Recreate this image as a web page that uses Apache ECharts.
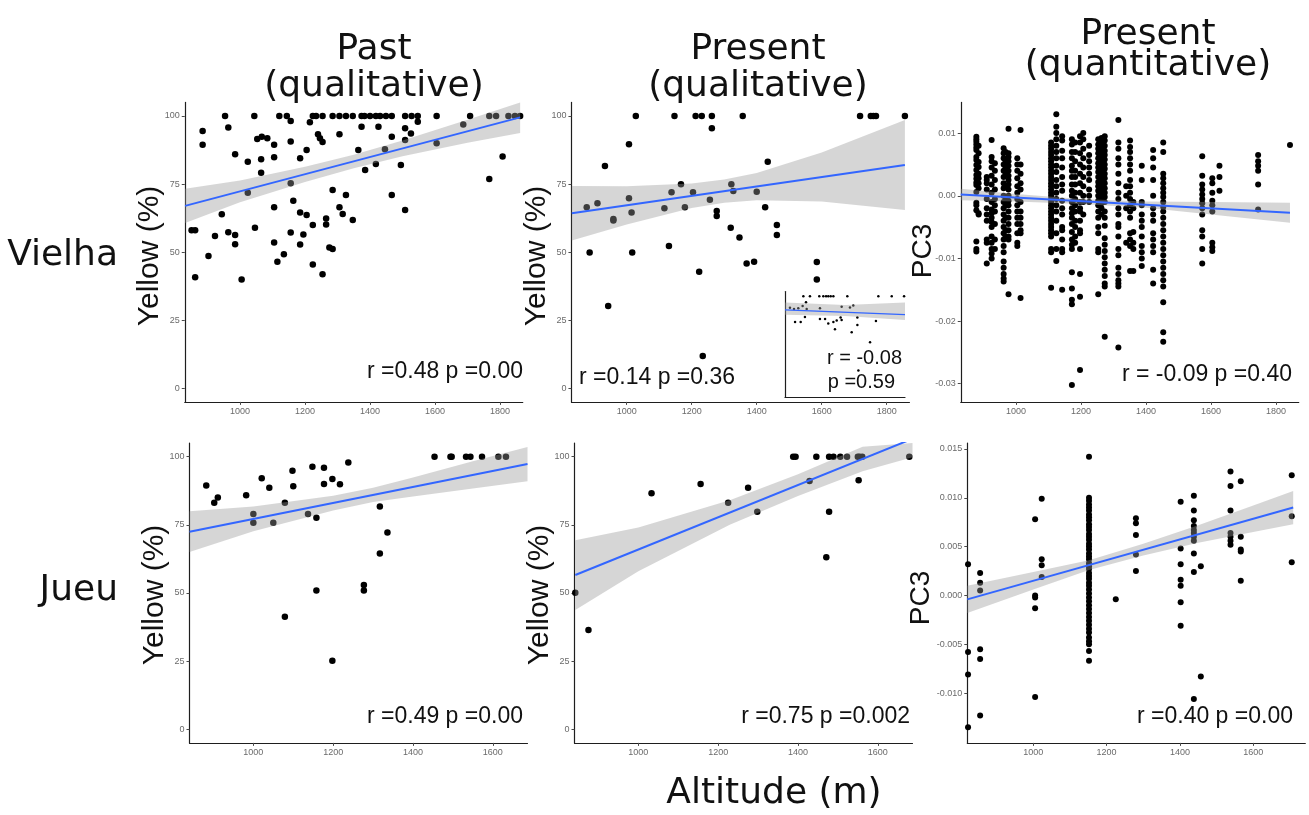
<!DOCTYPE html>
<html>
<head>
<meta charset="utf-8">
<script src="https://cdn.jsdelivr.net/npm/echarts@6/dist/echarts.min.js"></script>
<style>
  html, body { margin: 0; padding: 0; background: #ffffff; }
  #chart { width: 1309px; height: 815px; }
</style>
</head>
<body>
<div id="chart"></div>
<script>
// ---------- tick values ----------
const xTicksTop = [1000, 1200, 1400, 1600, 1800];
const xTicksBottom = [1000, 1200, 1400, 1600];
const yTicksYellow = [0, 25, 50, 75, 100];
const yTicksPC3Top = [-0.03, -0.02, -0.01, 0, 0.01];
const yTicksPC3Bottom = [-0.010, -0.005, 0, 0.005, 0.010, 0.015];

// ---------- Vielha, past (qualitative): [altitude, yellow %] ----------
const vielhaPastFull = [954, 1044, 1121, 1144, 1224, 1234, 1254, 1285, 1306, 1326, 1347, 1374, 1383, 1400,
  1418, 1431, 1449, 1467, 1508, 1528, 1547, 1605, 1708, 1767, 1788, 1826, 1846, 1862];
const vielhaPast = [
  [1156, 98.2], [885, 94.5], [885, 89.4], [964, 95.8], [1215, 97.7], [1240, 93.3], [1246, 91.8], [1254, 90.5],
  [1306, 93.3], [1374, 96.1], [1426, 96.1], [1508, 95.5], [1526, 93.6], [1547, 97.9], [1687, 96.9], [1053, 91.6],
  [1067, 92.4], [1084, 91.8], [1105, 89.4], [1156, 90.6], [1205, 87.5], [1364, 87.5], [1446, 87.8], [1467, 92.4],
  [1508, 91.2], [1605, 90], [1808, 85.1], [985, 86], [1105, 84.9], [1065, 84.1], [1024, 83.2], [1185, 84.5],
  [1418, 82.4], [1495, 82], [1065, 79.2], [1385, 80.2], [1767, 76.9], [1156, 75.3], [1024, 71.8], [1285, 72.8],
  [1326, 71], [1467, 71], [1164, 68.9], [1105, 66.5], [1306, 66.5], [1316, 64], [944, 63.9], [1185, 64.6],
  [1205, 63.6], [1265, 62.4], [1265, 60.2], [1347, 61.8], [1224, 60], [1508, 65.5], [851, 58], [862, 58],
  [1046, 59], [964, 57.3], [985, 56.3], [923, 55.9], [1156, 57.2], [1195, 56.5], [985, 52.9], [1105, 53.5],
  [1185, 52.8], [1275, 51.7], [1285, 51.2], [903, 48.6], [1135, 49.2], [1115, 46.5], [1224, 45.5], [1254, 41.9],
  [862, 40.8], [1005, 40]
];
const vielhaPastFit = [[831, 67], [1862, 99.5]];
const vielhaPastBand = [[831, 60.7, 73.3], [1000, 68.3, 76.3], [1200, 75.8, 81.4], [1350, 80.8, 85.8],
  [1500, 85.2, 91], [1700, 90.2, 98.6], [1862, 93.8, 105.2]];

// ---------- Vielha, present (qualitative) ----------
const vielhaPresent = [
  [1028, 100], [1147, 100], [1212, 100], [1231, 100], [1262, 100], [1357, 100], [1718, 100], [1751, 100],
  [1759, 100], [1767, 100], [1856, 100], [1262, 95.5], [1007, 89.6], [933, 81.6], [1434, 83.2], [877, 66.5],
  [910, 68], [959, 62.2], [959, 61.6], [1007, 69.8], [1015, 64.6], [886, 49.9], [1017, 49.9], [943, 30.2],
  [1116, 66.1], [1138, 72], [1167, 74.9], [1179, 66.5], [1204, 72], [1256, 69.2], [1277, 65.1], [1277, 63.3],
  [1322, 74.9], [1328, 72.5], [1400, 72.2], [1426, 66.5], [1130, 52.3], [1223, 42.8], [1320, 59], [1347, 55.4],
  [1369, 45.8], [1392, 46.5], [1462, 60], [1462, 56.3], [1234, 11.9], [1585, 46.4], [1585, 40]
];
const vielhaPresentFit = [[831, 64.3], [1856, 82]];
const vielhaPresentBand = [[831, 54.3, 74.3], [1000, 60.2, 74.2], [1200, 66.2, 75.2], [1300, 68.1, 76.7],
  [1400, 69.1, 79.1], [1600, 68.6, 86.6], [1856, 65.5, 98.5]];

// inset of the present (qualitative) panel
const insetFull = [989, 1046, 1127, 1162, 1186, 1205, 1226, 1249, 1370, 1639, 1755, 1862];
const insetPoints = [
  [1012, 93.9], [983, 89.9], [873, 88.1], [908, 86.9], [945, 87.5], [1018, 86.9], [1133, 87.5], [1321, 89.3],
  [1393, 88.4], [1422, 90.5], [917, 73.3], [966, 73.3], [1003, 78.5], [1133, 76.4], [1177, 76.4], [1205, 71.9],
  [1249, 73.3], [1278, 74.9], [1312, 77.9], [1321, 75.5], [1263, 65.8], [1457, 77.9], [1457, 70.3], [1618, 74.3],
  [1408, 62.8], [1567, 52.3], [1466, 23]
];
const insetFit = [[830, 86], [1870, 81]];
const insetBand = [[830, 80.9, 93.6], [1350, 79.5, 91], [1870, 75.5, 93.6]];

// ---------- Vielha, present (quantitative): [altitude, PC3 values] ----------
const vielhaQuant = [
  [828, [0.0055, 0.0035, -0.0115]],
  [878, [0.0094, 0.0090, 0.0086, 0.0082, 0.0077, 0.0073, 0.0062, 0.0057, 0.0049, 0.0041, 0.0033, 0.0027, 0.0021,
    0.0017, 0.0006, -0.0011, -0.0015, -0.0023, -0.0073, -0.0085, -0.0089]],
  [885, [0.0080, 0.0068, 0.0054, 0.0046, 0.0035, 0.0028, 0.0020, 0.0012, -0.0028, -0.0030]],
  [910, [0.0030, 0.0025, 0.0020, 0.0010, -0.0005, -0.0020, -0.0030, -0.0040, -0.0070, -0.0075, -0.0108]],
  [925, [0.0089, 0.0062, 0.0055, 0.0045, 0.0032, 0.0018, 0.0005, -0.0010, -0.0022, -0.0028, -0.0035, -0.0042,
    -0.0050, -0.0065, -0.0075, -0.0085, -0.0092, -0.0100]],
  [935, [0.0052, 0.0040, 0.0025, 0.0010, -0.0005, -0.0015, -0.0025, -0.0045, -0.0070, -0.0085]],
  [962, [0.0076, 0.0068, 0.0060, 0.0050, 0.0040, 0.0030, 0.0020, 0.0012, 0.0000, -0.0010, -0.0020, -0.0030,
    -0.0040, -0.0050, -0.0060, -0.0070, -0.0080, -0.0090, -0.0105, -0.0115, -0.0125, -0.0132, -0.0137]],
  [968, [0.0070, 0.0055, 0.0045, 0.0035, 0.0015, -0.0005, -0.0015, -0.0035, -0.0055, -0.0065]],
  [977, [0.0107, 0.0068, 0.0062, 0.0055, 0.0048, 0.0040, 0.0032, 0.0025, 0.0018, 0.0010, 0.0000, -0.0008,
    -0.0015, -0.0025, -0.0035, -0.0045, -0.0055, -0.0065, -0.0070, -0.0157]],
  [1004, [0.0060, 0.0050, 0.0040, 0.0028, 0.0015, 0.0005, -0.0005, -0.0015, -0.0025, -0.0035, -0.0045, -0.0060,
    -0.0075, -0.0080]],
  [1014, [0.0105, 0.0050, 0.0035, 0.0020, 0.0010, -0.0010, -0.0025, -0.0035, -0.0045, -0.0055, -0.0060, -0.0163]],
  [1108, [0.0085, 0.0080, 0.0075, 0.0070, 0.0065, 0.0060, 0.0055, 0.0050, 0.0045, 0.0040, 0.0035, 0.0030, 0.0025,
    0.0020, 0.0015, 0.0010, 0.0005, 0.0000, -0.0005, -0.0010, -0.0015, -0.0020, -0.0025, -0.0030, -0.0035, -0.0040,
    -0.0045, -0.0050, -0.0055, -0.0060, -0.0065, -0.0085, -0.0090, -0.0147]],
  [1124, [0.0130, 0.0110, 0.0100, 0.0090, 0.0080, 0.0070, 0.0060, 0.0048, 0.0038, 0.0025, 0.0015, 0.0005, -0.0005,
    -0.0015, -0.0025, -0.0040, -0.0060, -0.0085, -0.0104]],
  [1142, [0.0095, 0.0088, 0.0072, 0.0060, 0.0045, 0.0030, 0.0018, 0.0008, -0.0008, -0.0020, -0.0030, -0.0050,
    -0.0055, -0.0070, -0.0085, -0.0090, -0.0150]],
  [1172, [0.0090, 0.0082, 0.0070, 0.0060, 0.0048, 0.0040, 0.0030, 0.0018, 0.0008, 0.0000, -0.0010, -0.0020,
    -0.0028, -0.0035, -0.0045, -0.0058, -0.0070, -0.0078, -0.0085, -0.0122, -0.0148, -0.0166, -0.0173, -0.0302]],
  [1182, [0.0085, 0.0070, 0.0055, 0.0040, 0.0030, 0.0018, 0.0005, -0.0005, -0.0015, -0.0025, -0.0040, -0.0050,
    -0.0065, -0.0075]],
  [1197, [0.0095, 0.0085, 0.0068, 0.0050, 0.0035, 0.0020, 0.0005, -0.0010, -0.0020, -0.0025, -0.0040, -0.0055,
    -0.0060, -0.0085, -0.0125, -0.0161, -0.0278]],
  [1207, [0.0100, 0.0090, 0.0075, 0.0060, 0.0045, 0.0030, 0.0015, 0.0000, -0.0010, -0.0030]],
  [1225, [0.0080, 0.0065, 0.0055, 0.0045, 0.0035, 0.0025, 0.0010, 0.0000, -0.0010]],
  [1253, [0.0090, 0.0082, 0.0075, 0.0068, 0.0060, 0.0052, 0.0045, 0.0038, 0.0030, 0.0022, 0.0015, 0.0008, 0.0000,
    -0.0008, -0.0015, -0.0025, -0.0035, -0.0050, -0.0060, -0.0085, -0.0090, -0.0157]],
  [1263, [0.0092, 0.0085, 0.0078, 0.0070, 0.0062, 0.0055, 0.0048, 0.0040, 0.0032, 0.0025, 0.0018, 0.0010, 0.0003,
    -0.0005, -0.0012, -0.0020, -0.0030]],
  [1273, [0.0095, 0.0088, 0.0080, 0.0072, 0.0065, 0.0058, 0.0050, 0.0043, 0.0035, 0.0028, 0.0020, 0.0012, 0.0005,
    -0.0002, -0.0010, -0.0025, -0.0035, -0.0048, -0.0068, -0.0078, -0.0088, -0.0098, -0.0108, -0.0118, -0.0128,
    -0.0140, -0.0145, -0.0225]],
  [1315, [0.0121, 0.0085, 0.0075, 0.0060, 0.0050, 0.0035, 0.0020, 0.0005, -0.0005, -0.0020, -0.0030, -0.0045,
    -0.0050, -0.0065, -0.0085, -0.0095, -0.0115, -0.0125, -0.0135, -0.0140, -0.0145, -0.0242]],
  [1339, [0.0015, 0.0000, -0.0020, -0.0075]],
  [1351, [0.0088, 0.0078, 0.0070, 0.0060, 0.0050, 0.0040, 0.0025, 0.0015, 0.0005, -0.0005, -0.0015, -0.0025,
    -0.0035, -0.0060, -0.0070, -0.0080, -0.0120]],
  [1361, [-0.0010, -0.0020, -0.0058, -0.0075, -0.0085, -0.0120]],
  [1387, [0.0048, 0.0025, -0.0010, -0.0015, -0.0030, -0.0040, -0.0050, -0.0065, -0.0080, -0.0090, -0.0100, -0.0112]],
  [1422, [0.0073, 0.0060, 0.0045, 0.0025, 0.0000, -0.0020, -0.0030, -0.0040, -0.0060, -0.0070, -0.0080, -0.0090,
    -0.0118, -0.0140]],
  [1453, [0.0085, 0.0070, 0.0035, 0.0028, 0.0020, 0.0012, 0.0005, -0.0002, -0.0010, -0.0018, -0.0025, -0.0035,
    -0.0045, -0.0055, -0.0065, -0.0075, -0.0085, -0.0095, -0.0105, -0.0115, -0.0125, -0.0135, -0.0145, -0.0170,
    -0.0218, -0.0233]],
  [1573, [0.0063, 0.0032, 0.0018, 0.0010, 0.0002, -0.0005, -0.0012, -0.0020, -0.0030, -0.0055, -0.0065, -0.0085,
    -0.0108]],
  [1604, [0.0028, 0.0020, 0.0005, -0.0008, -0.0015, -0.0025, -0.0075, -0.0082, -0.0088]],
  [1626, [0.0048, 0.0030, 0.0008]],
  [1745, [0.0065, 0.0055, 0.0048, 0.0040, 0.0018, -0.0022]],
  [1843, [0.0081]]
];
const vielhaQuantFit = [[830, 0.0002], [1843, -0.0027]];
const vielhaQuantBand = [[830, -0.0007, 0.0011], [1000, -0.0009, 0.0003], [1200, -0.0013, -0.0005],
  [1400, -0.0019, -0.0009], [1600, -0.0030, -0.0010], [1843, -0.0043, -0.0011]];

// ---------- Jueu, past (qualitative) ----------
const jueuPast = [
  [882, 89.4], [902, 83.1], [911, 85], [982, 85.9], [1000, 79], [1000, 75.8], [1021, 92.1], [1040, 88.6],
  [1050, 75.8], [1079, 83.1], [1079, 41.3], [1098, 94.9], [1100, 89.2], [1137, 79], [1148, 96.3], [1158, 77.6],
  [1158, 50.9], [1177, 96], [1177, 90], [1198, 91.8], [1198, 25.1], [1217, 89.9], [1238, 97.9], [1277, 52.9],
  [1277, 50.9], [1317, 81.7], [1317, 64.5], [1336, 72.2],
  [1454, 100], [1494, 100], [1497, 100], [1533, 100], [1544, 100], [1573, 100], [1614, 100], [1633, 100]
];
const jueuPastFit = [[840, 72.5], [1687, 97.3]];
const jueuPastBand = [[840, 65, 80], [1000, 72.7, 81.7], [1200, 80.3, 85.7], [1300, 83.4, 88.6],
  [1400, 85.4, 92.4], [1550, 88.3, 98.3], [1687, 91, 103.6]];

// ---------- Jueu, present (qualitative) ----------
const jueuPresent = [
  [842, 50.1], [875, 36.4], [1033, 86.6], [1156, 90], [1225, 83.1], [1275, 88.6], [1298, 79.8], [1388, 100],
  [1394, 100], [1429, 91.1], [1446, 100], [1471, 63.1], [1478, 100], [1478, 79.8], [1489, 100], [1506, 100],
  [1523, 100], [1550, 100], [1554, 100], [1561, 100], [1552, 91.4], [1679, 100]
];
const jueuPresentFit = [[842, 56.6], [1687, 106.6]];
const jueuPresentBand = [[842, 43.8, 69.4], [1000, 58, 74], [1229, 75, 84], [1400, 85.6, 93.6],
  [1562, 94.7, 103.7], [1687, 99.8, 113.4]];

// ---------- Jueu, present (quantitative) ----------
const jueuQuant = [
  [822, [0.0032, -0.0058, -0.0081, -0.0135]],
  [855, [0.0023, 0.0013, 0.0005, -0.0055, -0.0065, -0.0123]],
  [1005, [0.0078, 0.0000, -0.0002, -0.0013, -0.0104]],
  [1023, [0.0099, 0.0037, 0.0031, 0.0019]],
  [1152, [0.0142, 0.0100, 0.0097, 0.0093, 0.0090, 0.0087, 0.0083, 0.0080, 0.0077, 0.0073, 0.0070, 0.0067, 0.0063,
    0.0060, 0.0057, 0.0053, 0.0050, 0.0047, 0.0043, 0.0040, 0.0037, 0.0033, 0.0030, 0.0027, 0.0023, 0.0020, 0.0017,
    0.0013, 0.0010, 0.0006, 0.0002, -0.0002, -0.0006, -0.0010, -0.0014, -0.0018, -0.0022, -0.0026, -0.0030,
    -0.0034, -0.0038, -0.0043, -0.0047, -0.0050, -0.0057, -0.0067]],
  [1225, [-0.0004]],
  [1280, [0.0079, 0.0074, 0.0062, 0.0042, 0.0025]],
  [1402, [0.0096, 0.0048, 0.0032, 0.0016, 0.0010, -0.0007, -0.0031]],
  [1438, [0.0102, 0.0087, 0.0077, 0.0071, 0.0067, 0.0064, 0.0060, 0.0056, 0.0043, 0.0024, -0.0106]],
  [1457, [0.0030, -0.0083]],
  [1538, [0.0127, 0.0112, 0.0087, 0.0064, 0.0060, 0.0056, 0.0052]],
  [1566, [0.0117, 0.0060, 0.0047, 0.0045, 0.0015]],
  [1705, [0.0123, 0.0081, 0.0034]]
];
const jueuQuantFit = [[820, -0.0004], [1709, 0.0090]];
const jueuQuantBand = [[820, -0.0018, 0.0010], [1000, 0.0006, 0.0024], [1152, 0.0026, 0.0036],
  [1300, 0.0041, 0.0053], [1450, 0.0054, 0.0072], [1600, 0.0065, 0.0092], [1709, 0.0073, 0.0107]];

// ---------- helpers ----------
const AXIS_COLOR = '#1e1e1e';
const TICK_COLOR = '#4a4a4a';
const LABEL_COLOR = '#6a6a6a';
const SANS = '"Liberation Sans", Arial, sans-serif';
const DEJAVU = '"DejaVu Sans", Verdana, sans-serif';

function flatCols(cols) {
  const out = [];
  cols.forEach(function (c) { c[1].forEach(function (v) { out.push([c[0], v]); }); });
  return out;
}

function axisX(idx, min, max, ticks, plain) {
  return {
    type: 'value', gridIndex: idx, min: min, max: max,
    axisLine: { show: true, onZero: false, lineStyle: { color: AXIS_COLOR, width: 1.2 } },
    axisTick: { show: !plain, length: 3, customValues: ticks, lineStyle: { color: TICK_COLOR, width: 1 } },
    axisLabel: {
      show: !plain, customValues: ticks, fontSize: 9, color: LABEL_COLOR, margin: 5, fontFamily: SANS,
      formatter: function (v) { return String(Math.round(v)); }
    },
    splitLine: { show: false }
  };
}
function axisY(idx, min, max, ticks, digits, plain) {
  return {
    type: 'value', gridIndex: idx, min: min, max: max,
    axisLine: { show: true, onZero: false, lineStyle: { color: AXIS_COLOR, width: 1.2 } },
    axisTick: { show: !plain, length: 3, customValues: ticks, lineStyle: { color: TICK_COLOR, width: 1 } },
    axisLabel: {
      show: !plain, customValues: ticks, fontSize: 9, color: LABEL_COLOR, margin: 5, fontFamily: SANS,
      formatter: function (v) { return digits ? Number(v).toFixed(digits) : String(Math.round(v)); }
    },
    splitLine: { show: false }
  };
}
function points(idx, data, size) {
  return {
    type: 'scatter', xAxisIndex: idx, yAxisIndex: idx, data: data, symbolSize: size, z: 2,
    itemStyle: { color: '#000000', opacity: 1 }, silent: true
  };
}
function fitLine(idx, data, width) {
  return {
    type: 'line', xAxisIndex: idx, yAxisIndex: idx, data: data, showSymbol: false, z: 4, clip: true,
    lineStyle: { color: '#3366FF', width: width }, silent: true
  };
}
function band(idx, rows) {
  return {
    type: 'custom', xAxisIndex: idx, yAxisIndex: idx, z: 3, silent: true,
    data: [[rows[0][0], rows[0][1]]],
    renderItem: function (params, api) {
      const upper = rows.map(function (r) { return api.coord([r[0], r[2]]); });
      const lower = rows.slice().reverse().map(function (r) { return api.coord([r[0], r[1]]); });
      const cs = params.coordSys;
      const pts = echarts.graphic.clipPointsByRect(upper.concat(lower),
        { x: cs.x, y: cs.y, width: cs.width, height: cs.height });
      return { type: 'polygon', shape: { points: pts }, style: { fill: 'rgba(153,153,153,0.4)' } };
    }
  };
}
function txt(x, y, s, font, align, rot) {
  return {
    type: 'text', x: x, y: y, rotation: rot || 0, z: 10, silent: true,
    style: { text: s, font: font, fill: '#111111', align: align, textAlign: align,
      verticalAlign: 'middle', textVerticalAlign: 'middle' }
  };
}

// ---------- layout (pixels) ----------
const TOP1 = 102.4, H1 = 299.5, TOP2 = 443.1, H2 = 299.8, W = 338;
const grids = [
  { left: 184.75, top: TOP1, width: W, height: H1 },
  { left: 571.45, top: TOP1, width: W, height: H1 },
  { left: 960.75, top: TOP1, width: W, height: H1 },
  { left: 189.5, top: TOP2, width: W, height: H2 },
  { left: 574.5, top: TOP2, width: W, height: H2 },
  { left: 967.3, top: TOP2, width: W, height: H2 },
  { left: 785, top: 291.5, width: 120, height: 106 }
].map(function (g) { return Object.assign({ containLabel: false, outerBoundsMode: 'none' }, g); });

const chart = echarts.init(document.getElementById('chart'), null, { renderer: 'canvas' });

const fullPast = vielhaPastFull.map(function (x) { return [x, 100]; });
const fullInset = insetFull.map(function (x) { return [x, 100]; });

chart.setOption({
  animation: false,
  backgroundColor: '#ffffff',
  grid: grids,
  xAxis: [
    axisX(0, 830, 1870, xTicksTop),
    axisX(1, 830, 1870, xTicksTop),
    axisX(2, 830, 1870, xTicksTop),
    axisX(3, 840, 1687, xTicksBottom),
    axisX(4, 840, 1687, xTicksBottom),
    axisX(5, 820, 1742, xTicksBottom),
    axisX(6, 830, 1870, [], true)
  ],
  yAxis: [
    axisY(0, -5, 105, yTicksYellow, 0),
    axisY(1, -5, 105, yTicksYellow, 0),
    axisY(2, -0.0329, 0.0149, yTicksPC3Top, 2),
    axisY(3, -5, 105, yTicksYellow, 0),
    axisY(4, -5, 105, yTicksYellow, 0),
    axisY(5, -0.0151, 0.0156, yTicksPC3Bottom, 3),
    axisY(6, -5, 105, [], 0, true)
  ],
  series: [
    points(0, vielhaPast.concat(fullPast), 6.5), band(0, vielhaPastBand), fitLine(0, vielhaPastFit, 2),
    points(1, vielhaPresent, 6.5), band(1, vielhaPresentBand), fitLine(1, vielhaPresentFit, 2),
    points(2, flatCols(vielhaQuant), 6), band(2, vielhaQuantBand), fitLine(2, vielhaQuantFit, 2),
    points(3, jueuPast, 6.5), band(3, jueuPastBand), fitLine(3, jueuPastFit, 2),
    points(4, jueuPresent, 6.5), band(4, jueuPresentBand), fitLine(4, jueuPresentFit, 2),
    points(5, flatCols(jueuQuant), 6), band(5, jueuQuantBand), fitLine(5, jueuQuantFit, 2),
    points(6, insetPoints.concat(fullInset), 2.5), band(6, insetBand), fitLine(6, insetFit, 1.2)
  ],
  graphic: [
    // column headings
    txt(374, 50, 'Past', '36px ' + DEJAVU, 'center'),
    txt(374, 87, '(qualitative)', '36px ' + DEJAVU, 'center'),
    txt(758, 50, 'Present', '36px ' + DEJAVU, 'center'),
    txt(758, 87, '(qualitative)', '36px ' + DEJAVU, 'center'),
    txt(1148, 35, 'Present', '36px ' + DEJAVU, 'center'),
    txt(1148, 66, '(quantitative)', '36px ' + DEJAVU, 'center'),
    // row headings
    txt(118, 256, 'Vielha', '36px ' + DEJAVU, 'right'),
    txt(118, 591, 'Jueu', '36px ' + DEJAVU, 'right'),
    // shared x title
    txt(774, 794, 'Altitude (m)', '36px ' + DEJAVU, 'center'),
    // y titles
    txt(150, 256, 'Yellow (%)', '30px ' + SANS, 'center', Math.PI / 2),
    txt(537, 256, 'Yellow (%)', '30px ' + SANS, 'center', Math.PI / 2),
    txt(923, 251, 'PC3', '28px ' + SANS, 'center', Math.PI / 2),
    txt(154.5, 595, 'Yellow (%)', '30px ' + SANS, 'center', Math.PI / 2),
    txt(539.5, 595, 'Yellow (%)', '30px ' + SANS, 'center', Math.PI / 2),
    txt(921, 598, 'PC3', '28px ' + SANS, 'center', Math.PI / 2),
    // correlation statistics
    txt(523, 372, 'r =0.48 p =0.00', '23px ' + SANS, 'right'),
    txt(579, 378, 'r =0.14 p =0.36', '23px ' + SANS, 'left'),
    txt(1292, 375, 'r = -0.09 p =0.40', '23px ' + SANS, 'right'),
    txt(523, 717, 'r =0.49 p =0.00', '23px ' + SANS, 'right'),
    txt(910, 717, 'r =0.75 p =0.002', '23px ' + SANS, 'right'),
    txt(1293, 717, 'r =0.40 p =0.00', '23px ' + SANS, 'right'),
    txt(902, 358, 'r = -0.08', '20px ' + SANS, 'right'),
    txt(895, 382, 'p =0.59', '20px ' + SANS, 'right')
  ]
});
</script>
</body>
</html>
